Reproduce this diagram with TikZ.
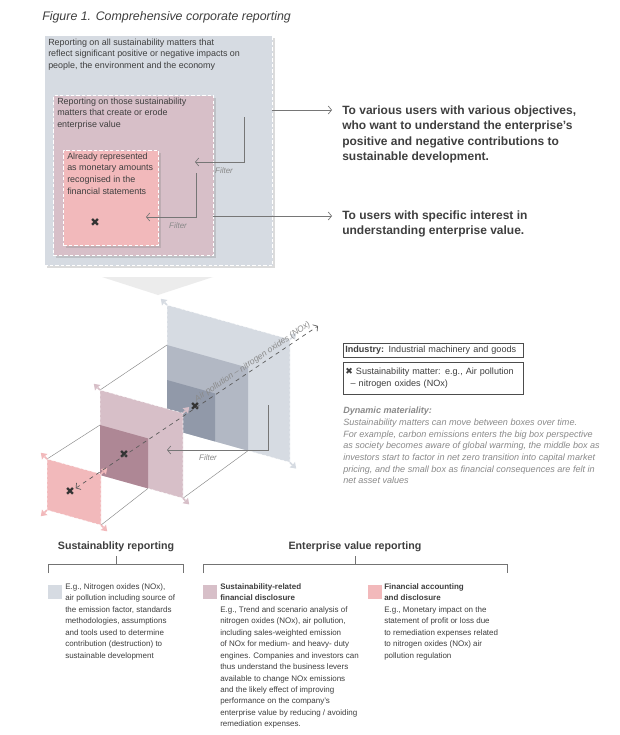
\documentclass[tikz,border=0pt]{standalone}
\usepackage{fontspec}
\setmainfont{Liberation Sans}
\newfontfamily\crossfont{DejaVu Sans}
\usetikzlibrary{arrows.meta,calc,positioning,shadows}
\definecolor{outerfill}{HTML}{D6DBE2}
\definecolor{middlefill}{HTML}{D7BFC8}
\definecolor{innerfill}{HTML}{F2B9BB}
\definecolor{outermid}{HTML}{B2B8C4}
\definecolor{outerdeep}{HTML}{9199A9}
\definecolor{middledeep}{HTML}{AE8795}
\definecolor{chevron}{HTML}{ECECEC}
\definecolor{ink}{HTML}{3F3F3F}
\definecolor{muted}{HTML}{8A8A8A}
\definecolor{wire}{HTML}{767676}
\newcommand{\crossmark}{{\crossfont\char"2716}}

\begin{document}
\begin{tikzpicture}[x=0.75pt,y=-0.75pt,
    scopebox/.style={draw=white,dash pattern=on 2.5pt off 1.6pt,line width=0.8pt,anchor=north west,inner sep=0pt,
      drop shadow={shadow xshift=2pt,shadow yshift=-2pt,opacity=0.28}},
    boxtext/.style={anchor=north west,align=left,inner sep=0pt,text=ink,font=\fontsize{6.7}{8.7}\selectfont},
    usertext/.style={anchor=north west,align=left,inner sep=0pt,text=ink,font=\fontsize{9}{11.5}\selectfont\bfseries},
    outarr/.style={-{Straight Barb[length=2.5pt,width=6pt]},line width=0.5pt,draw=wire},
    filterlbl/.style={anchor=base,inner sep=0pt,text=muted,font=\fontsize{6}{7}\selectfont\itshape},
    panel/.style={draw=white,draw opacity=0.8,dash pattern=on 2pt off 1.5pt,line width=0.4pt},
    link/.style={draw=wire!85,line width=0.35pt},
    cross/.style={inner sep=0.5pt,text=black!80,font=\fontsize{8.5}{8.5}\selectfont},
    pollution/.style={{Straight Barb[length=2.5pt,width=6pt]}-{Straight Barb[length=2.5pt,width=6pt]},dashed,line width=0.5pt,draw=black!65},
    legendbox/.style={draw=black!70,line width=0.5pt,anchor=north west,inner xsep=1.5pt,inner ysep=0pt,text width=132pt,align=left,text=ink,font=\fontsize{6.8}{8.6}\selectfont},
    heading/.style={anchor=base,inner sep=0pt,text=ink,font=\fontsize{8}{9}\selectfont\bfseries},
    bracket/.style={draw=black!55,line width=0.5pt},
    swatch/.style={anchor=north west,minimum size=10.5pt,inner sep=0pt},
    bodytext/.style={anchor=north west,align=left,inner sep=0pt,text=ink,font=\fontsize{6}{8.6}\selectfont}
  ]
  \fill[white] (0,0) rectangle (620,735);
  \useasboundingbox (0,0) rectangle (620,735);

  \node[anchor=base west,inner sep=0pt,text=ink,font=\fontsize{9.3}{11}\selectfont\itshape] (title) at (42,20.5)
    {Figure 1. Comprehensive corporate reporting};

  % top nested boxes
  \fill[chevron] (102,277) -- (213,277) -- (158,295) -- cycle;
  \node[scopebox,fill=outerfill,minimum width=171pt,minimum height=172.5pt] (allbox) at (44,35) {};
  \node[boxtext] (alltext) at (48,38.5) {Reporting on all sustainability matters that\\reflect significant positive or negative impacts on\\people, the environment and the economy};
  \node[scopebox,fill=middlefill,minimum width=120pt,minimum height=120pt] (valbox) at (53,95) {};
  \node[boxtext] (valtext) at (57,97.5) {Reporting on those sustainability\\matters that create or erode\\enterprise value};
  \node[scopebox,fill=innerfill,minimum width=71.25pt,minimum height=71.25pt] (finbox) at (63,150) {};
  \node[boxtext] (fintext) at (67,152.5) {Already represented\\as monetary amounts\\recognised in the\\financial statements};
  \node[cross] (xtop) at (95,223) {\crossmark};

  % filters
  \coordinate (f1s) at (244,117);
  \coordinate (f1e) at (195,162);
  \draw[outarr] (f1s) |- (f1e);
  \node[filterlbl] (filter1) at (224,173) {Filter};
  \coordinate (f2s) at (196,173);
  \coordinate (f2e) at (146,217);
  \draw[outarr] (f2s) |- (f2e);
  \node[filterlbl] (filter2) at (178,228) {Filter};

  % outputs
  \coordinate (allout) at (272,110);
  \coordinate (allin) at (332,110);
  \draw[outarr] (allout) -- (allin);
  \node[usertext] (usersall) at (342,105.4) {To various users with various objectives,\\who want to understand the enterprise's\\positive and negative contributions to\\sustainable development.};
  \coordinate (valout) at (213,216);
  \coordinate (valin) at (332,216);
  \draw[outarr] (valout) -- (valin);
  \node[usertext] (usersval) at (342,210.4) {To users with specific interest in\\understanding enterprise value.};

  % oblique panels
  \coordinate (bTL) at (167,305);  \coordinate (bTR) at (290,339.4);
  \coordinate (bBR) at (290,462.4); \coordinate (bBL) at (167,428);
  \coordinate (bmTL) at (167,345); \coordinate (bmTR) at (248,367.7); \coordinate (bmBR) at (248,450.7);
  \coordinate (bdTL) at (167,380); \coordinate (bdTR) at (215,393.4); \coordinate (bdBR) at (215,441.4);
  \coordinate (mTL) at (100,390);  \coordinate (mTR) at (183,413.2);
  \coordinate (mBR) at (183,498.2); \coordinate (mBL) at (100,475);
  \coordinate (mdTL) at (100,425); \coordinate (mdTR) at (148,438.4); \coordinate (mdBR) at (148,488.4);
  \coordinate (sTL) at (47,459);   \coordinate (sTR) at (101,474.1);
  \coordinate (sBR) at (101,525.1); \coordinate (sBL) at (47,510);

  \foreach \c/\dx/\dy in {bTL/-1/-1,bTR/1/-1,bBR/1/1,bBL/-1/1}{
    \draw[outerfill,line width=1.2pt] (\c) -- ++(2.5*\dx,2.5*\dy);
    \fill[outerfill] ($(\c)+(6.2*\dx,6.2*\dy)$) -- ($(\c)+(5*\dx,-0.5*\dy)$) -- ($(\c)+(2.6*\dx,2.6*\dy)$) -- ($(\c)+(-0.5*\dx,5*\dy)$) -- cycle;
  }
  \filldraw[panel,fill=outerfill] (bTL) -- (bTR) -- (bBR) -- (bBL) -- cycle;
  \fill[outermid] (bmTL) -- (bmTR) -- (bmBR) -- (bBL) -- cycle;
  \fill[outerdeep] (bdTL) -- (bdTR) -- (bdBR) -- (bBL) -- cycle;
  \draw[link] (mTL) -- (bmTL);
  \draw[link] (mBR) -- (bmBR);

  \foreach \c/\dx/\dy in {mTL/-1/-1,mTR/1/-1,mBR/1/1,mBL/-1/1}{
    \draw[middlefill,line width=1.2pt] (\c) -- ++(2.5*\dx,2.5*\dy);
    \fill[middlefill] ($(\c)+(6.2*\dx,6.2*\dy)$) -- ($(\c)+(5*\dx,-0.5*\dy)$) -- ($(\c)+(2.6*\dx,2.6*\dy)$) -- ($(\c)+(-0.5*\dx,5*\dy)$) -- cycle;
  }
  \filldraw[panel,fill=middlefill] (mTL) -- (mTR) -- (mBR) -- (mBL) -- cycle;
  \fill[middledeep] (mdTL) -- (mdTR) -- (mdBR) -- (mBL) -- cycle;
  \draw[link] (sTL) -- (mdTL);
  \draw[link] (sBR) -- (mdBR);

  \foreach \c/\dx/\dy in {sTL/-1/-1,sTR/1/-1,sBR/1/1,sBL/-1/1}{
    \draw[innerfill,line width=1.2pt] (\c) -- ++(2.5*\dx,2.5*\dy);
    \fill[innerfill] ($(\c)+(6.2*\dx,6.2*\dy)$) -- ($(\c)+(5*\dx,-0.5*\dy)$) -- ($(\c)+(2.6*\dx,2.6*\dy)$) -- ($(\c)+(-0.5*\dx,5*\dy)$) -- cycle;
  }
  \filldraw[panel,fill=innerfill] (sTL) -- (sTR) -- (sBR) -- (sBL) -- cycle;

  \coordinate (f3s) at (268,405);
  \coordinate (f3e) at (167,450);
  \draw[outarr] (f3s) |- (f3e);
  \node[filterlbl] (filter3) at (208,460) {Filter};

  \node[cross] (xbig) at (195,407) {\crossmark};
  \node[cross] (xmid) at (124,455) {\crossmark};
  \node[cross] (xsmall) at (70,492) {\crossmark};
  \coordinate (noxend) at (318,326);
  \draw[pollution] (xsmall) -- (noxend)
    node[pos=0.745,above=1.5pt,sloped,inner sep=0pt,text=muted,font=\fontsize{6.4}{7}\selectfont\itshape] (noxlbl) {Air pollution -- nitrogen oxides (NOx)};

  % legend
  \node[legendbox,minimum height=10.5pt] (industry) at (343,343) {\textbf{Industry:} Industrial machinery and goods};
  \node[legendbox,minimum height=24pt] (matter) at (343,362) {\crossmark\ Sustainability matter: e.g., Air pollution\\\hspace*{4pt}-- nitrogen oxides (NOx)};
  \node[anchor=north west,align=left,inner sep=0pt,text=muted,font=\fontsize{6.8}{8.8}\selectfont\itshape] (dynamic) at (343,406.7)
    {\textbf{Dynamic materiality:}\\Sustainability matters can move between boxes over time.\\For example, carbon emissions enters the big box perspective\\as society becomes aware of global warming, the middle box as\\investors start to factor in net zero transition into capital market\\pricing, and the small box as financial consequences are felt in\\net asset values};

  % bottom key
  \node[heading] (susthead) at (116,549) {Sustainablity reporting};
  \node[heading] (evhead) at (355,549) {Enterprise value reporting};
  \draw[bracket] (48,573) |- (183,564) -- (183,573);
  \draw[bracket] (116,564) -- (116,556);
  \draw[bracket] (203,573) |- (507,564) -- (507,573);
  \draw[bracket] (355,564) -- (355,556);

  \node[swatch,fill=outerfill] (keyouter) at (48,585) {};
  \node[bodytext] (sustbody) at (65,583.2) {E.g., Nitrogen oxides (NOx),\\air pollution including source of\\the emission factor, standards\\methodologies, assumptions\\and tools used to determine\\contribution (destruction) to\\sustainable development};
  \node[swatch,fill=middlefill] (keymiddle) at (203,585) {};
  \node[bodytext] (srfdbody) at (220,583.2) {\textbf{Sustainability-related}\\\textbf{financial disclosure}\\E.g., Trend and scenario analysis of\\nitrogen oxides (NOx), air pollution,\\including sales-weighted emission\\of NOx for medium- and heavy- duty\\engines. Companies and investors can\\thus understand the business levers\\available to change NOx emissions\\and the likely effect of improving\\performance on the company's\\enterprise value by reducing / avoiding\\remediation expenses.};
  \node[swatch,fill=innerfill] (keyinner) at (368,585) {};
  \node[bodytext] (facbody) at (384,583.2) {\textbf{Financial accounting}\\\textbf{and disclosure}\\E.g., Monetary impact on the\\statement of profit or loss due\\to remediation expenses related\\to nitrogen oxides (NOx) air\\pollution regulation};
\end{tikzpicture}
\end{document}
